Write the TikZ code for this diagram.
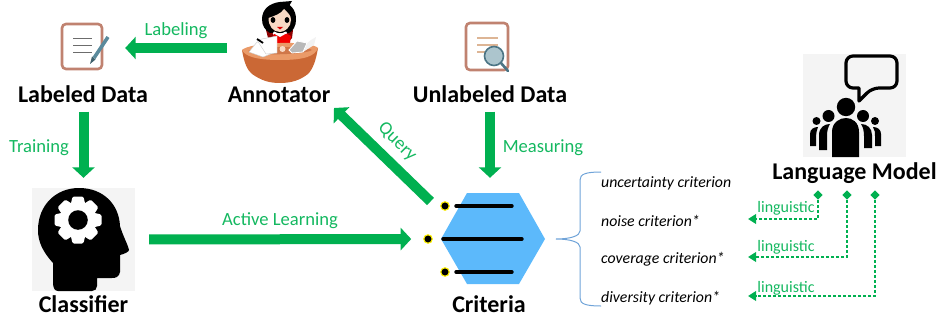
\documentclass[tikz,border=0pt]{standalone}
\usepackage{fontspec}
\setmainfont{Carlito}
\usetikzlibrary{arrows.meta,shapes.geometric}
\definecolor{blockgreen}{HTML}{00B050}
\definecolor{labelgreen}{HTML}{14B860}
\definecolor{docbrown}{HTML}{C08270}
\definecolor{hexblue}{HTML}{5CB9FB}
\definecolor{bracecol}{HTML}{6FA3D8}
\definecolor{penblue}{HTML}{5A8A9C}
\definecolor{tanline}{HTML}{DDB595}
\definecolor{tablecol}{HTML}{CB6835}
\definecolor{tabletop}{HTML}{EA9A68}
\definecolor{skin}{HTML}{F8D9C4}
\definecolor{iconbg}{HTML}{F4F4F4}
\tikzset{
  x=1pt,y=-1pt,
  title/.style={font=\fontsize{24}{26}\selectfont\bfseries,inner sep=0pt,text height=16pt,text depth=5pt},
  greenlabel/.style={font=\fontsize{18.6}{20}\selectfont,text=labelgreen,inner sep=0pt},
  smallgreen/.style={font=\fontsize{16}{18}\selectfont,text=labelgreen,inner sep=0pt},
  crit/.style={font=\fontsize{15.8}{17}\selectfont\itshape,inner sep=0pt,anchor=west},
  blockarrow/.style={draw=blockgreen,line width=10pt,-{Triangle[length=10.5pt,width=22pt]}},
  linkarrow/.style={draw=blockgreen,line width=2.7pt,dash pattern=on 2.6pt off 2.4pt,-{Triangle[length=8pt,width=9.5pt]}},
  startmark/.style={diamond,fill=blockgreen,inner sep=0pt,minimum size=9.5pt},
  hole/.style={circle,fill=black,draw=yellow,line width=1.1pt,minimum size=8.5pt,inner sep=0pt},
  hexbar/.style={line width=3.4pt,line cap=round},
  iconbox/.style={inner sep=0pt,minimum width=#1,minimum height=#1},
  docframe/.style={draw=docbrown,line width=2.6pt,rounded corners=4pt,fill=white},
}
\begin{document}
\begin{tikzpicture}
\useasboundingbox (0,0) rectangle (939,326);
% anchor nodes for the icons
\node[inner sep=0pt,minimum width=85pt,minimum height=50pt] (labeledicon) at (82.5,48) {};
\node[inner sep=0pt,minimum width=104pt,minimum height=84pt] (annotatoricon) at (279,42) {};
\node[iconbox=103pt,fill=iconbg] (classifier) at (83.5,239.5) {};
\node[iconbox=103pt,fill=iconbg] (language) at (854.5,105.5) {};
\node[inner sep=0pt,minimum width=104pt,minimum height=91pt] (hex) at (493,238.5) {};
% labeled document
\draw[docframe] (62,24) rectangle (102,69);
\draw[gray!85!black,line width=1.5pt] (73,38.5)--(92,38.5) (73,45.5)--(92,45.5) (73,52.5)--(92,52.5);
\draw[penblue,line width=3.6pt] (108,37)--(94,58);
\fill[penblue!70!black] (95.5,59.5)--(92,56.5)--(90,64)--cycle;
% annotator
\fill[red!55!black] (266,30) -- (270,28) -- (276,40) -- (276,46) -- (268,38) -- cycle (293,30) -- (289,28) -- (284,40) -- (284,46) -- (292,38) -- cycle;
\fill[black] (280,2) .. controls (290,2) and (296.5,10) .. (296,20) .. controls (296,26) and (293,31) .. (289,33) -- (270,33) .. controls (265,30) and (262,26) .. (262,19) .. controls (262,9) and (270,3) .. (280,2) -- (292,1) -- (289,6) -- cycle;
\fill[skin] (268.5,18) .. controls (274,16) and (281,14) .. (284,9) .. controls (288,13) and (291,15) .. (291,20) .. controls (291,27) and (285,32) .. (280,32) .. controls (273,32) and (268.5,26) .. (268.5,18) -- cycle;
\fill[black] (273,20) ellipse (2.4 and 3) (287,20) ellipse (2.4 and 3);
\fill[red!85!black] (277,27) -- (283,27) -- (280,29.5) -- cycle;
\fill[red!95!black] (274,34) -- (287,34) -- (291,36) -- (289,50) -- (276,50) -- (273,37) -- cycle;
\fill[white] (273,33) -- (280,37) -- (287,33) -- (286,31.5) -- (280,34) -- (274,31.5) -- cycle;
\fill[tablecol] (242,50) .. controls (244,62) and (247,70) .. (252,74) .. controls (262,81) and (270,83) .. (280,83) .. controls (292,83) and (300,80) .. (308,74) .. controls (313,69) and (316,60) .. (318,48) -- cycle;
\fill[tabletop] (242,50) .. controls (250,42) and (310,40) .. (318,48) .. controls (315,56) and (305,60) .. (280,60) .. controls (255,60) and (245,56) .. (242,50) -- cycle;
\fill[tablecol!90!white] (248,51) .. controls (256,47) and (304,45) .. (312,50) .. controls (305,55) and (255,56) .. (248,51) -- cycle;
\fill[white,draw=gray!40,line width=.4pt] (249,52) -- (257,42) -- (272,45) -- (273,53) -- (263,57) -- cycle;
\fill[white,draw=gray!40,line width=.4pt] (257,40) -- (277,36) -- (277,53) -- (266,54) -- cycle;
\draw[black,line width=1.8pt] (257,39) -- (263,43);
\fill[skin] (282.5,49) circle (3);
\fill[white!90!gray] (292,53) -- (303,52) -- (314,45) -- (316,37) -- (311,40) -- (306,44) -- cycle;
\fill[gray!55,draw=white,line width=.8pt] (289,50) -- (297,41) -- (307,43) -- (303,52) -- (292,53) -- cycle;
% unlabeled document
\draw[docframe] (466,23) rectangle (508,70);
\draw[tanline,line width=1.5pt] (477,38)--(498,38) (477,45)--(498,45) (477,52)--(486,52);
\draw[penblue!85!black,line width=2.6pt,line cap=round] (501,63)--(508,71);
\draw[penblue!85!black,line width=1.6pt,fill=penblue!50!white] (494,56) circle (9.5);
% classifier head
\fill[black] (53,283) -- (53,263) .. controls (43,252) and (38,242) .. (38,230) .. controls (38,205) and (56,188) .. (79,188) .. controls (103,188) and (119,204) .. (120,226) .. controls (123,236) and (128,245) .. (129,250) .. controls (129,252) and (124,254) .. (120,255) -- (120,272) .. controls (119,277) and (116,278) .. (112,278) -- (97,278) -- (97,286) .. controls (97,289) and (95,291) .. (92,291) -- (58,291) .. controls (55,291) and (53,288) .. (53,283) -- cycle;
\foreach \a in {0,45,...,315}{
  \fill[white,rounded corners=1.5pt,rotate around={\a:(78,220)}] (72.5,196.5) -- (83.5,196.5) -- (86,208) -- (70,208) -- cycle;
}
\fill[white] (78,220) circle (18.5);
\fill[black] (78,220) circle (9.8);
% language model icon
\draw[black,line width=3.2pt,line join=round,rounded corners=7pt] (846,56) -- (897,56) -- (897,88) -- (872,88) [sharp corners] -- (859,101) -- (859,88) [rounded corners=7pt] -- (846,88) -- cycle;
\fill[black] (846,107) circle (9.2);
\fill[black] (828.5,116) circle (6) (863,116) circle (6);
\fill[black] (816.5,121) circle (4) (875,121) circle (4);
\fill[black] (832,157) -- (832,132) .. controls (832,122) and (840,118) .. (846,118) .. controls (852,118) and (859,122) .. (859,132) -- (859,157) -- cycle;
\fill[black] (819,150) -- (819,135) .. controls (819,127) and (825,124) .. (830,124) .. controls (828,127) and (827,131) .. (827,136) -- (827,150) -- cycle;
\fill[black] (864,148) -- (864,136) .. controls (864,131) and (863,127) .. (861,124) .. controls (867,124) and (872,128) .. (872,135) -- (872,148) -- cycle;
\fill[black] (810,146) -- (810,134) .. controls (810,129) and (814,127) .. (818,127) .. controls (817,130) and (816,133) .. (816,136) -- (816,146) -- cycle;
\fill[black] (875,146) -- (875,136) .. controls (875,133) and (875,130) .. (873,127) .. controls (878,127) and (881,130) .. (881,134) -- (881,146) -- cycle;
% hexagon
\fill[hexblue] (441,239) -- (467,193) -- (519,193) -- (545,239) -- (519,284) -- (467,284) -- cycle;
\draw[hexbar] (456,206)--(512,206) (443,239)--(522,239) (456,272)--(512,272);
\node[hole] (dota) at (445,206) {};
\node[hole] (dotb) at (428,239) {};
\node[hole] (dotc) at (445,272) {};
% titles
\node[title] (labeledtext) at (83,97) {Labeled Data};
\node[title] (annotatortext) at (279,97) {Annotator};
\node[title] (unlabeledtext) at (490,97) {Unlabeled Data};
\node[title] (classifiertext) at (83.5,307) {Classifier};
\node[title] (criteriatext) at (489,307) {Criteria};
\node[title] (languagetext) at (854.5,174) {Language Model};
% block arrows
\coordinate (querytip) at (334,108);
\coordinate (querytail) at (430.5,201.5);
\draw[blockarrow] (annotatoricon.west |- labeledicon.east) -- (labeledicon.east);
\draw[blockarrow,shorten <=4pt,shorten >=10pt] (labeledtext.south -| classifier.north) -- (classifier.north);
\draw[blockarrow,shorten <=4pt,shorten >=15pt] (unlabeledtext.south) -- (unlabeledtext.south |- hex.north);
\draw[blockarrow,shorten <=14pt,shorten >=12pt] (classifier.east) -- (dotb.west);
\draw[blockarrow] (querytail) -- (querytip);
% arrow labels
\node[greenlabel] (labeling) at (176,30.5) {Labeling};
\node[greenlabel] (training) at (39,147.5) {Training};
\node[greenlabel] (measuring) at (543,147.5) {Measuring};
\node[greenlabel] (active) at (280,220.5) {Active Learning};
\node[greenlabel,rotate=-45] (query) at (397,142) {Query};
% brace
\coordinate (bracetip) at (556,239);
\node[crit] (c1) at (601,183) {uncertainty criterion};
\node[crit] (c2) at (601,221) {noise criterion*};
\node[crit] (c3) at (601,259) {coverage criterion*};
\node[crit] (c4) at (601,298) {diversity criterion*};
\draw[bracecol,line width=1pt] (601,172) .. controls (586,172) and (580,174) .. (580,180) -- (580,231) .. controls (580,236) and (570,239) .. (bracetip) .. controls (570,239) and (580,242) .. (580,247) -- (580,298) .. controls (580,304) and (586,306) .. (601,306);
% linguistic links
\node[startmark] (m1) at (818,195) {};
\node[startmark] (m2) at (847,195) {};
\node[startmark] (m3) at (875,195) {};
\coordinate (e1) at (748,219);
\coordinate (e2) at (748,257);
\coordinate (e3) at (748,296);
\draw[linkarrow] (m1.south) |- (e1);
\draw[linkarrow] (m2.south) |- (e2);
\draw[linkarrow] (m3.south) |- (e3);
\node[smallgreen] (l1) at (786,208) {linguistic};
\node[smallgreen] (l2) at (786,247) {linguistic};
\node[smallgreen] (l3) at (786,288) {linguistic};
\end{tikzpicture}
\end{document}
